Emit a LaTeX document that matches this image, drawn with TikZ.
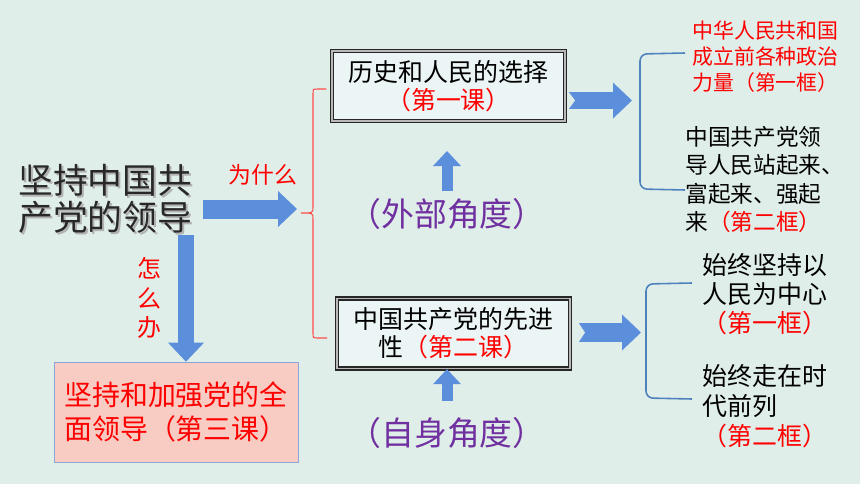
\documentclass[tikz,border=0pt]{standalone}
\usepackage{fontspec}
\setmainfont{Noto Sans CJK SC}
\usetikzlibrary{arrows.meta}

\definecolor{bgmint}{RGB}{224,238,233}
\definecolor{arrowblue}{RGB}{91,142,219}
\definecolor{lineblue}{RGB}{79,129,189}
\definecolor{kered}{RGB}{255,0,0}
\definecolor{anglepurple}{RGB}{112,48,160}
\definecolor{pinkfill}{RGB}{248,204,194}
\definecolor{pinkline}{RGB}{140,165,215}
\definecolor{boxfill}{RGB}{236,245,245}
\definecolor{titlegray}{RGB}{40,40,40}

\tikzset{
  lessonbox/.style={draw=black!85, double=gray!55, double distance=0.7pt, line width=0.8pt,
    fill=boxfill, minimum width=4.66cm, minimum height=1.4cm, align=center, inner sep=0pt,
    font=\fontsize{14.2}{15.8}\selectfont},
  fatarrow/.style={arrowblue, line width=0.38cm, -{Triangle[width=0.72cm,length=0.38cm,line width=0pt]}},
  slimarrow/.style={arrowblue, line width=0.22cm, -{Triangle[width=0.56cm,length=0.3cm,line width=0pt]}},
  angletext/.style={text=anglepurple, inner sep=0pt, font=\fontsize{18.7}{20}\selectfont},
  frametext/.style={align=left, inner sep=0pt, anchor=west},
}

\begin{document}
\begin{tikzpicture}[x=0.02cm,y=-0.02cm]
  \useasboundingbox (0,0) rectangle (860,484);
  \fill[bgmint] (0,0) rectangle (860,484);

  % left side
  \node[frametext, text=gray!60, font=\fontsize{19.8}{21.5}\selectfont] (titleshadow) at (20,201) {坚持中国共\\产党的领导};
  \node[frametext, text=titlegray, font=\fontsize{19.8}{21.5}\selectfont] (title) at (18,199) {坚持中国共\\产党的领导};
  \node[text=kered, inner sep=0pt, font=\fontsize{13}{15}\selectfont] (why) at (263,175) {为什么};
  \node[text=kered, inner sep=0pt, align=center, font=\fontsize{13.6}{17}\selectfont] (how) at (149,298) {怎\\么\\办};
  \node[draw=pinkline, fill=pinkfill, minimum width=4.88cm, minimum height=2cm, align=left,
    inner sep=0pt, text=kered, font=\fontsize{15.9}{19.3}\selectfont] (pink) at (176,412)
    {坚持和加强党的全\\面领导（第三课）};

  \coordinate (whyend) at (297,209);
  \draw[fatarrow] ([xshift=6pt]title.east |- whyend) -- (whyend);
  \coordinate (downstart) at (186,235);
  \draw[fatarrow, line width=0.34cm] (downstart) -- (downstart |- pink.north);

  % middle
  \node[lessonbox] (box1) at (448.5,86) {历史和人民的选择\\\textcolor{kered}{（第一课）}};
  \node[lessonbox] (box2) at (453.5,333.5) {中国共产党的先进\\性\textcolor{kered}{（第二课）}};
  \node[angletext] (outer) at (447,214) {（外部角度）};
  \node[angletext] (inner) at (447,433) {（自身角度）};

  \draw[red!70, line width=0.6pt] (box1.west) ++(-5,3) -- (318,89) .. controls (313,89) .. (313,94)
    -- (313,207) .. controls (313,213) .. (301,213) .. controls (313,213) .. (313,219)
    -- (313,333) .. controls (313,338) .. (318,338) -- (327,338);

  \draw[slimarrow] (outer.north |- 0,191) -- (outer.north |- 0,151);
  \draw[slimarrow] (inner.north |- 0,401) -- (inner.north |- box2.south);

  \coordinate (n1) at (568,100.5);
  \coordinate (t1) at (632,100.5);
  \draw[fatarrow, line width=0.34cm] (n1) -- (t1);
  \fill[bgmint] (568,91) -- (575,100.5) -- (568,110) -- cycle;
  \coordinate (n2) at (578,332.5);
  \coordinate (t2) at (641,332.5);
  \draw[fatarrow, line width=0.38cm] (n2) -- (t2);
  \fill[bgmint] (578,322) -- (585,332.5) -- (578,343) -- cycle;

  % right side
  \draw[lineblue, line width=0.9pt, rounded corners=4pt] (685,53) -- (640,54) -- (640,189) -- (685,190);
  \draw[lineblue, line width=0.9pt, rounded corners=4pt] (692,283) -- (646,284) -- (646,398) -- (692,399);

  \node[frametext, text=kered, font=\fontsize{11.9}{14.7}\selectfont] (force) at (692,57)
    {中华人民共和国\\成立前各种政治\\力量（第一框）};
  \node[frametext, text=black, font=\fontsize{12.9}{16}\selectfont] (standup) at (685,179.5)
    {中国共产党领\\导人民站起来、\\富起来、强起\\来\textcolor{kered}{（第二框）}};
  \node[frametext, text=black, font=\fontsize{14.2}{16.4}\selectfont] (center) at (702,294)
    {始终坚持以\\人民为中心\\\textcolor{kered}{（第一框）}};
  \node[frametext, text=black, font=\fontsize{14.2}{17}\selectfont] (front) at (702,406)
    {始终走在时\\代前列\\\textcolor{kered}{（第二框）}};
\end{tikzpicture}
\end{document}
